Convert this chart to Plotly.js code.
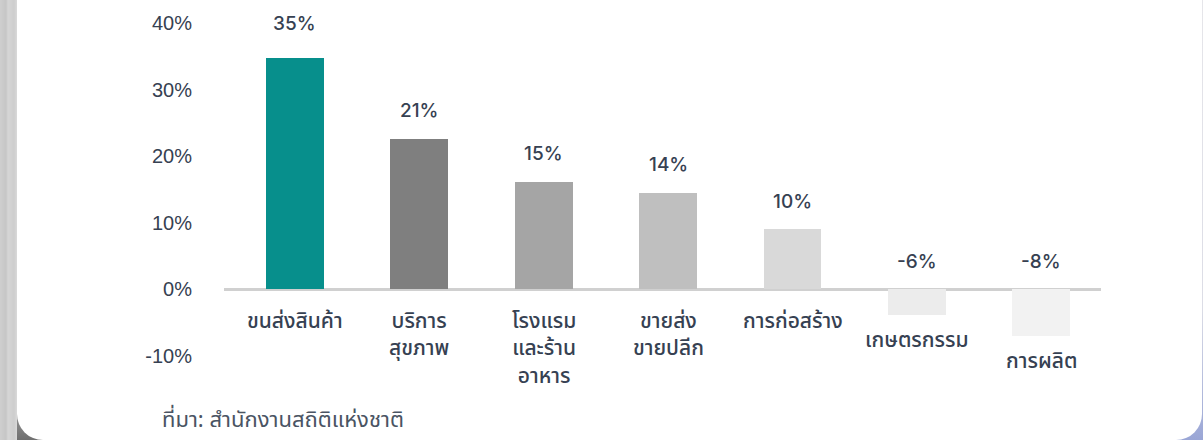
<!DOCTYPE html>
<html>
<head>
<meta charset="utf-8">
<script src="https://cdn.plot.ly/plotly-3.0.1.min.js"></script>
<style>
  html, body { margin:0; padding:0; width:1203px; height:440px; overflow:hidden; background:#ffffff; }
  #leftstrip { position:absolute; left:0; top:0; width:40px; height:440px;
    background: linear-gradient(to right, #cfcfcf 0px, #c6c6c6 6px, #d6d6d6 8px, #cdcdcd 14px, #d9d9d9 17px);
  }
  #leftcorner { position:absolute; left:17px; top:400px; width:30px; height:40px;
    background: linear-gradient(to bottom, #a9a9a9, #6f6f6f); }
  #rightstrip { position:absolute; left:1170px; top:0; width:33px; height:440px;
    background: linear-gradient(to bottom, #e6e6ea 0%, #dcdde6 70%, #9aa6d6 100%); }
  #card { position:absolute; left:17px; top:-30px; width:1185px; height:470px; background:#ffffff; border-radius:0 0 26px 26px; }
  #chart { position:absolute; left:0; top:0; width:1203px; height:440px; }
</style>
</head>
<body>
<div id="leftstrip"></div>
<div id="leftcorner"></div>
<div id="rightstrip"></div>
<div id="card"></div>
<div id="chart"></div>
<script>
// Data
const categories = ["ขนส่งสินค้า", "บริการ<br>สุขภาพ", "โรงแรม<br>และร้าน<br>อาหาร", "ขายส่ง<br>ขายปลีก", "การก่อสร้าง", "เกษตรกรรม", "การผลิต"];
const values = [34.7, 22.6, 16.2, 14.5, 9.0, -3.8, -7.0];
const valueLabels = ["35%", "21%", "15%", "14%", "10%", "-6%", "-8%"];
const barColors = ["#078f8c", "#7f7f7f", "#a5a5a5", "#bfbfbf", "#d9d9d9", "#ececec", "#f2f2f2"];
const yTickVals = [-10, 0, 10, 20, 30, 40];
const yTickText = ["-10%", "0%", "10%", "20%", "30%", "40%"];
const sourceText = "ที่มา: สำนักงานสถิติแห่งชาติ";

const textColor = "#364152";
const thaiFont = "Noto Sans Thai, Loma, Garuda, Tlwg Typo, Liberation Sans, sans-serif";
const idx = categories.map((c, i) => i);

const trace = {
  type: "bar",
  x: idx,
  y: values,
  width: 0.466,
  marker: { color: barColors, line: { width: 0 } },
  hoverinfo: "skip"
};

const annotations = [];
idx.forEach(i => {
  const v = values[i];
  annotations.push({
    x: i, y: Math.max(v, 0), xref: "x", yref: "y",
    text: valueLabels[i], showarrow: false,
    yanchor: "middle", yshift: i === 0 ? 35 : 28,
    font: { family: "Inter, Liberation Sans, Arial, sans-serif", size: 19, color: textColor, weight: 500 }
  });
  annotations.push({
    x: i, y: Math.min(v, 0), xref: "x", yref: "y",
    text: categories[i], showarrow: false, borderpad: 0,
    yanchor: "top", yshift: v >= 0 ? -16 : -9,
    font: { family: thaiFont, size: 21, color: textColor, weight: 500 }
  });
});
annotations.push({
  xref: "paper", yref: "paper", x: (160 - 224) / (1101 - 224), y: (440 - 420 - 84) / (440 - 23 - 84),
  xanchor: "left", yanchor: "middle", text: sourceText, showarrow: false,
  font: { family: thaiFont, size: 22, color: "#4a5463", weight: 400 }
});

const layout = {
  width: 1203, height: 440,
  margin: { l: 224, r: 102, t: 23, b: 84 },
  paper_bgcolor: "rgba(0,0,0,0)",
  plot_bgcolor: "rgba(0,0,0,0)",
  showlegend: false,
  bargap: 0,
  xaxis: {
    range: [-0.57, 6.48],
    showticklabels: false, showgrid: false, zeroline: false, showline: false, ticks: ""
  },
  yaxis: {
    range: [-10, 40],
    tickvals: yTickVals, ticktext: yTickText,
    showgrid: false, zeroline: true, zerolinecolor: "#d0d0d0", zerolinewidth: 3,
    showline: false, ticks: "", ticklabelstandoff: 31,
    tickfont: { family: "Liberation Sans, Arial, sans-serif", size: 20, color: textColor }
  },
  annotations: annotations
};

Plotly.newPlot("chart", [trace], layout, { staticPlot: true, displayModeBar: false });
</script>
</body>
</html>
